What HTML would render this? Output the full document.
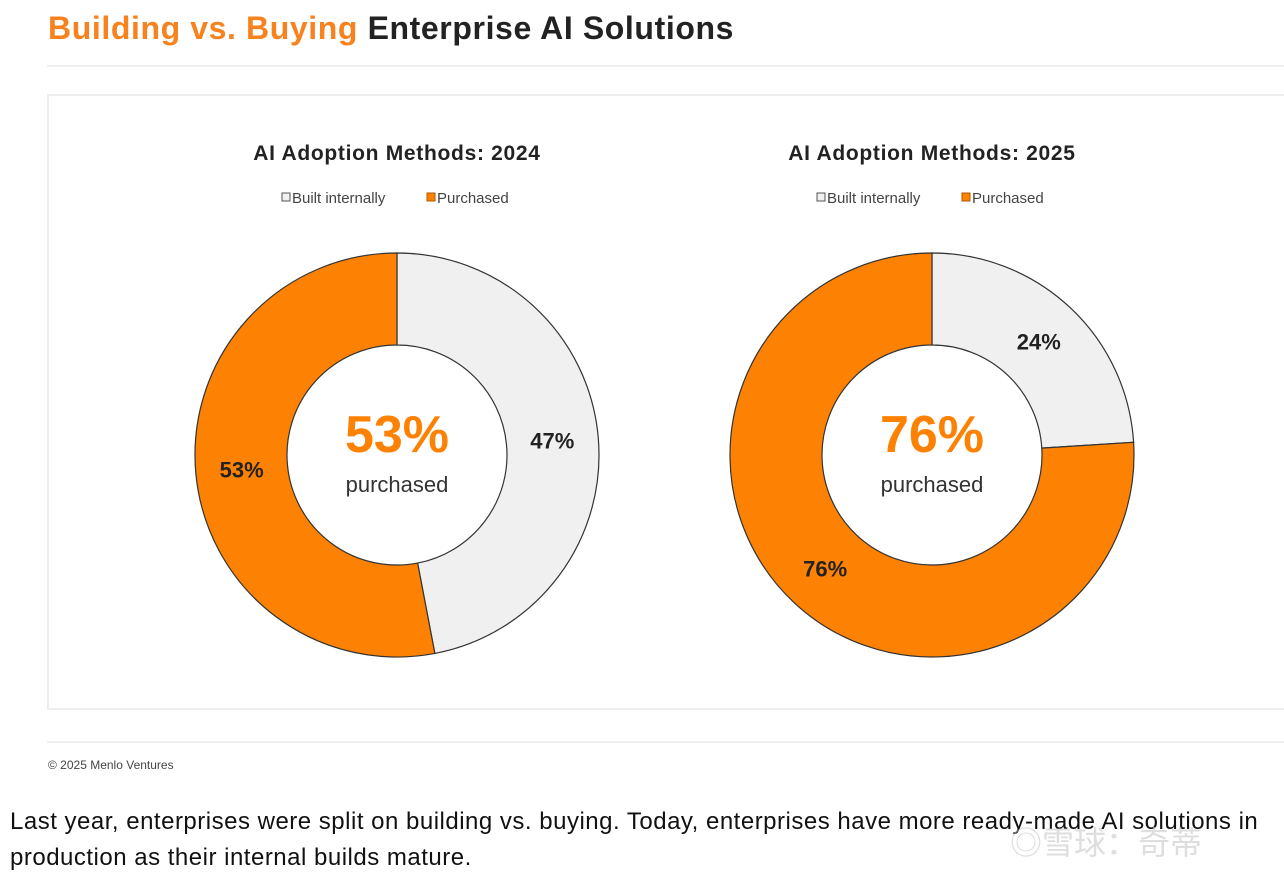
<!DOCTYPE html>
<html><head><meta charset="utf-8"><style>
html,body{margin:0;padding:0;background:#fff;width:1284px;height:879px;overflow:hidden;font-family:"Liberation Sans",sans-serif;}
#title{position:absolute;left:48px;top:10px;font-size:32px;font-weight:bold;color:#222;letter-spacing:0.6px;white-space:nowrap}
#title span{color:#f7821e}
.hr{position:absolute;left:47px;right:0;height:2px;background:#f0f0f0}
#card{position:absolute;left:47px;top:94px;width:1250px;height:616px;border:2px solid #eeeeee;box-sizing:border-box}
#credit{position:absolute;left:48px;top:758px;font-size:12px;color:#444}
#body{position:absolute;left:10px;top:804px;font-size:24px;line-height:36px;color:#111;letter-spacing:0.5px;white-space:nowrap}
#wm{position:absolute;left:1010px;top:818px;font-size:32px;color:rgba(200,200,200,0.6);font-family:"Liberation Sans","Noto Sans CJK SC",sans-serif}
</style></head><body>
<div id="title"><span>Building vs. Buying</span> Enterprise AI Solutions</div>
<div class="hr" style="top:65px"></div>
<div id="card"></div>
<svg id="chart" width="1284" height="879" style="position:absolute;left:0;top:0"></svg>
<div class="hr" style="top:741px"></div>
<div id="credit">© 2025 Menlo Ventures</div>
<div id="body">Last year, enterprises were split on building vs. buying. Today, enterprises have more ready-made AI solutions in<br>production as their internal builds mature.</div>
<div id="wm">◎雪球：奇蒂</div>
<script>
const years = ["2024", "2025"];
const builtValues = [47, 24];
const purchasedValues = [53, 76];
const categories = ["Built internally", "Purchased"];

const NS = "http://www.w3.org/2000/svg";
const svg = document.getElementById("chart");
const colors = ["#f0f0f0", "#fd8204"];
const centersX = [397, 932];
const cy = 455, R = 202, r = 110, labelR = 156;
function mk(tag, attrs){const e=document.createElementNS(NS,tag);for(const k in attrs)e.setAttribute(k,attrs[k]);svg.appendChild(e);return e;}
function angle(v){return v/100*2*Math.PI;}
function pt(cx,rad,a){return [cx+rad*Math.sin(a), cy-rad*Math.cos(a)];}
function arcPath(cx,a0,a1){
  const large=(a1-a0)>Math.PI?1:0;
  const [x0,y0]=pt(cx,R,a0),[x1,y1]=pt(cx,R,a1),[x2,y2]=pt(cx,r,a1),[x3,y3]=pt(cx,r,a0);
  return `M${x0},${y0}A${R},${R} 0 ${large} 1 ${x1},${y1}L${x2},${y2}A${r},${r} 0 ${large} 0 ${x3},${y3}Z`;
}
years.forEach((yr,i)=>{
  const cx=centersX[i];
  const t=mk("text",{x:cx,y:160,"text-anchor":"middle","font-size":21,"font-weight":"bold",fill:"#222","letter-spacing":0.7});
  t.textContent="AI Adoption Methods: "+yr;
  
  
  categories.forEach((c,j)=>{
    const lx=cx-115+j*145;
    const sq=mk("rect",{x:lx,y:193,width:8,height:8,fill:colors[j],stroke:j?"#b35a00":"#555","stroke-width":1});
    
    
    const lt=mk("text",{x:lx+10,y:203,"font-size":15,fill:"#444"});
    lt.textContent=c;
    
    
  });
  const vals=[builtValues[i],purchasedValues[i]];
  let acc=0;
  vals.forEach((v,j)=>{
    const a0=angle(acc),a1=angle(acc+v);
    const p=mk("path",{d:arcPath(cx,a0,a1),fill:colors[j],stroke:"#333","stroke-width":1.2});
    
    
    const [tx,ty]=pt(cx,labelR,(a0+a1)/2);
    const lab=mk("text",{x:tx,y:ty+8,"text-anchor":"middle","font-size":22,"font-weight":"bold",fill:"#222"});
    lab.textContent=v+"%";
    
    
    acc+=v;
  });
  const big=mk("text",{x:cx,y:452,"text-anchor":"middle","font-size":52,"font-weight":"bold",fill:"#fd8204"});
  big.textContent=purchasedValues[i]+"%";
  
  
  const sub=mk("text",{x:cx,y:492,"text-anchor":"middle","font-size":22,fill:"#333"});
  sub.textContent="purchased";
  
  
});
</script>
</body></html>
